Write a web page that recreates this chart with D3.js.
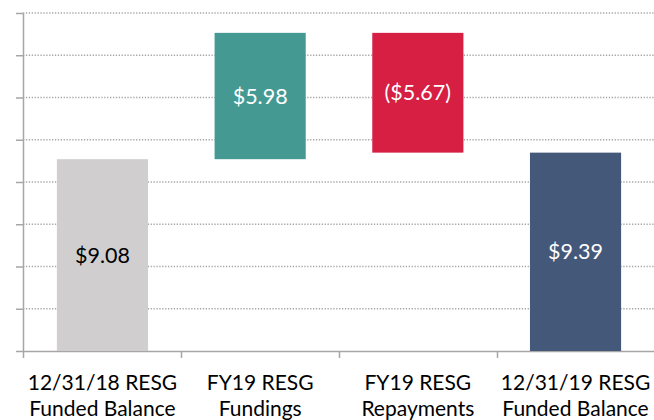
<!DOCTYPE html>
<html>
<head>
<meta charset="utf-8">
<script src="https://cdn.jsdelivr.net/npm/d3@7"></script>
<style>
  body { margin: 0; background: #fff; }
  svg { display: block; font-family: Lato, "Open Sans", sans-serif; }
</style>
</head>
<body>
<svg></svg>
<script>
// categories, two lines each
var categories = [
    ["12/31/18 RESG", "Funded Balance"],
    ["FY19 RESG", "Fundings"],
    ["FY19 RESG", "Repayments"],
    ["12/31/19 RESG", "Funded Balance"]
];
var changes = [9.08, 5.98, -5.67, 9.39];
var kinds = ["total", "delta", "delta", "total"];
var valueLabels = ["$9.08", "$5.98", "($5.67)", "$9.39"];
var barColors = ["#d0cece", "#449a92", "#d61f43", "#44587a"];
var labelColors = ["#000", "#fff", "#fff", "#fff"];
var yTicks = [0, 2, 4, 6, 8, 10, 12, 14, 16];

const W = 654, H = 420;
const plotLeft = 23, plotRight = 655, plotTop = 13, plotBottom = 351;

var svg = d3.select('svg').attr('width', W).attr('height', H);

var x = d3.scaleBand()
    .domain(d3.range(categories.length))
    .range([plotLeft, plotRight])
    .paddingInner(0.422)
    .paddingOuter(0.215);

var y = d3.scaleLinear().domain([0, 16]).range([plotBottom, plotTop]);

// work out waterfall start/end
var running = 0;
var bars = changes.map((v, i) => {
    var start, end;
    if (kinds[i] == "total") { start = 0; end = v; running = v; }
    else { start = running; end = running + v; running = end; }
    return { i: i, lo: Math.min(start, end), hi: Math.max(start, end) };
});

// dotted gridlines
svg.append('g')
    .selectAll('line')
    .data(yTicks.filter(d => d > 0))
    .enter().append('line')
    .attr('x1', plotLeft).attr('x2', W)
    .attr('y1', d => y(d)).attr('y2', d => y(d))
    .style('stroke', '#a6a6a6')
    .style('stroke-width', 1.3)
    .style('stroke-dasharray', '1.3,1.6');

// y axis with ticks only
var yAxis = svg.append('g')
    .attr('transform', `translate(${plotLeft},0)`)
    .call(d3.axisLeft(y).tickValues(yTicks).tickSize(7).tickFormat('').tickSizeOuter(0));
yAxis.select('.domain').style('stroke', '#a6a6a6').style('stroke-width', 1.5);
yAxis.selectAll('line').style('stroke', '#a6a6a6').style('stroke-width', 1.5);

// x axis, ticks at band edges
var edgeScale = d3.scaleLinear().domain([0, 4]).range([plotLeft, plotRight]);
var xAxis = svg.append('g')
    .attr('transform', `translate(0,${plotBottom})`)
    .call(d3.axisBottom(edgeScale).tickValues([0, 1, 2, 3]).tickSize(7).tickFormat('').tickSizeOuter(0));
xAxis.select('.domain').style('stroke', '#a6a6a6').style('stroke-width', 1.5);
xAxis.selectAll('line').style('stroke', '#a6a6a6').style('stroke-width', 1.5);

// bars
svg.append('g')
    .selectAll('rect')
    .data(bars)
    .enter().append('rect')
    .attr('x', d => x(d.i))
    .attr('width', x.bandwidth())
    .attr('y', d => y(d.hi))
    .attr('height', d => y(d.lo) - y(d.hi))
    .style('fill', d => barColors[d.i]);

// value labels in the middle of each bar
svg.append('g')
    .selectAll('text')
    .data(bars)
    .enter().append('text')
    .attr('x', d => x(d.i) + x.bandwidth() / 2)
    .attr('y', d => (y(d.hi) + y(d.lo)) / 2)
    .attr('dy', '0.35em')
    .attr('text-anchor', 'middle')
    .style('font-size', '21.5px')
    .style('fill', d => labelColors[d.i])
    .text(d => valueLabels[d.i]);

// category labels
var cat = svg.append('g')
    .selectAll('text')
    .data(categories)
    .enter().append('text')
    .attr('text-anchor', 'middle')
    .style('font-size', '21px')
    .style('fill', '#000');
cat.each(function (d, i) {
    var t = d3.select(this);
    d.forEach((line, k) => {
        t.append('tspan')
            .attr('x', x(i) + x.bandwidth() / 2)
            .attr('y', 390 + k * 26)
            .text(line);
    });
});
</script>
</body>
</html>
